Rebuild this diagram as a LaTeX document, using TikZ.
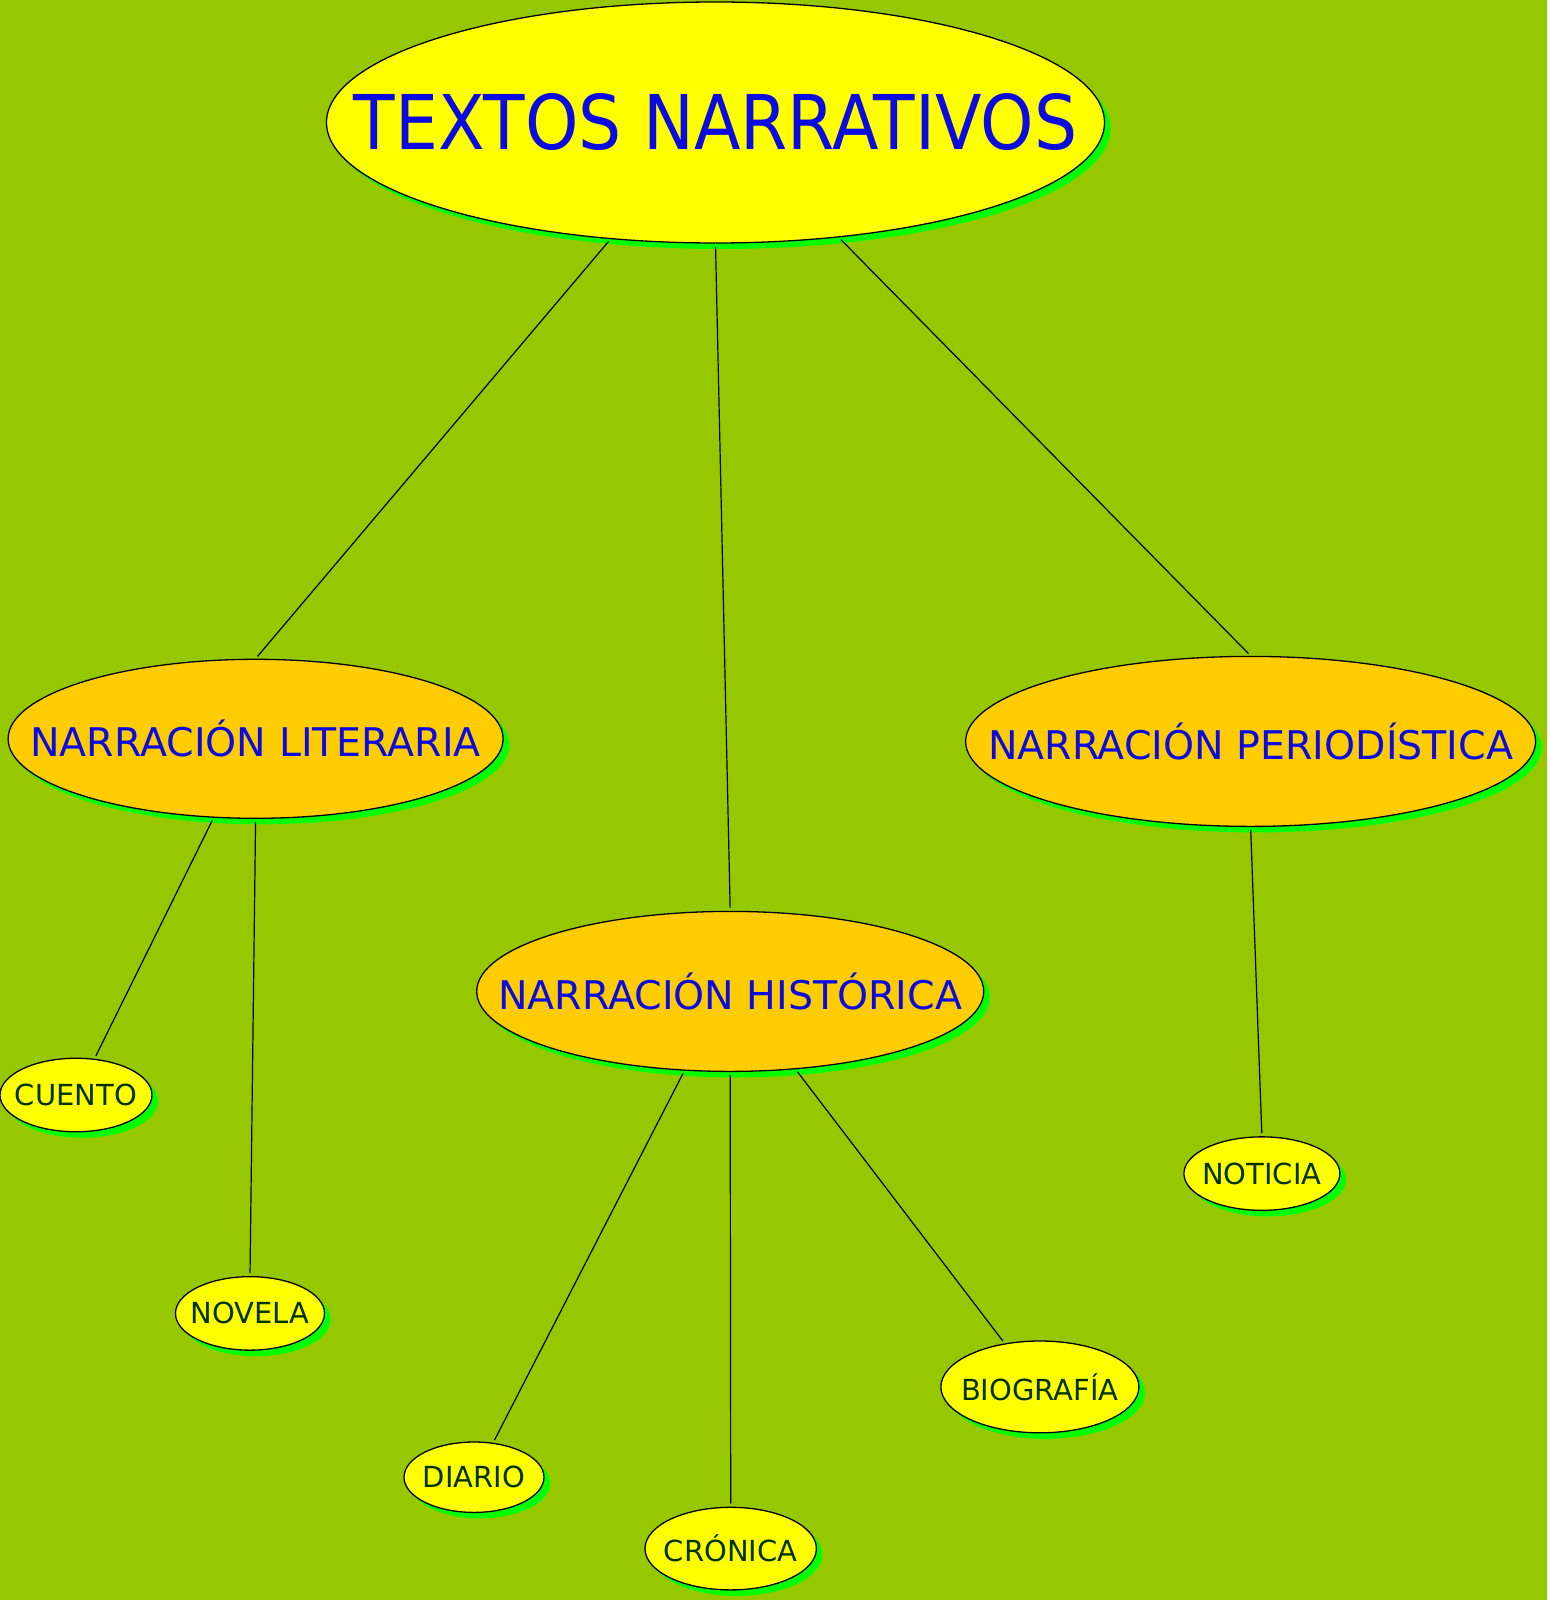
\documentclass[tikz,border=0pt]{standalone}
\usepackage{fontspec}
\setmainfont{DejaVu Sans}
\newfontfamily\titlefont{DejaVu Sans}[FakeStretch=0.9]
\usepackage{tikz}
\usetikzlibrary{shapes.geometric,shadows}

\definecolor{fondo}{RGB}{150,200,0}
\definecolor{amarillo}{RGB}{255,255,0}
\definecolor{naranja}{RGB}{255,204,0}
\definecolor{sombra}{RGB}{0,255,0}
\definecolor{azul}{RGB}{10,10,225}
\definecolor{verdeosc}{RGB}{0,51,0}

\newcommand{\etq}[1]{\makebox[0pt]{#1}}

\begin{document}
\begin{tikzpicture}[x=1pt, y=-1pt,
		elipse/.style={ellipse, draw=black, line width=1.3pt, inner sep=0pt,
			drop shadow={fill=sombra, opacity=1, shadow xshift=6pt, shadow yshift=-6pt}},
		raiz/.style={elipse, fill=amarillo, text=azul, font=\titlefont\fontsize{75.5}{80}\selectfont},
		rama/.style={elipse, fill=naranja, text=azul, font=\fontsize{39.5}{44}\selectfont},
		hoja/.style={elipse, fill=amarillo, text=verdeosc, font=\fontsize{29}{33}\selectfont},
		enlace/.style={line width=1.2pt, shorten <=3pt, shorten >=3pt}]
		\fill[fondo] (0,0) rectangle (1547,1600);
		\useasboundingbox (0,0) rectangle (1547,1600);

		\node[raiz, minimum width=778, minimum height=241] (tn) at (715.5,122.5) {\etq{TEXTOS NARRATIVOS}};

		\node[rama, minimum width=495, minimum height=159] (lit) at (255.6,738.8) {\etq{NARRACIÓN LITERARIA}};
		\node[rama, minimum width=570, minimum height=170] (per) at (1250.6,741.4) {\etq{NARRACIÓN PERIODÍSTICA}};
		\node[rama, minimum width=507, minimum height=160] (his) at (730.2,991.4) {\etq{NARRACIÓN HISTÓRICA}};

		\node[hoja, minimum width=152, minimum height=73.5] (cue) at (76,1095) {\etq{CUENTO}};
		\node[hoja, minimum width=149, minimum height=73.5] (nov) at (250,1313.4) {\etq{NOVELA}};
		\node[hoja, minimum width=140, minimum height=70.4] (dia) at (474,1477.2) {\etq{DIARIO}};
		\node[hoja, minimum width=171.4, minimum height=82.6] (cro) at (730.7,1548.6) {\etq{CRÓNICA}};
		\node[hoja, minimum width=198, minimum height=91.8] (bio) at (1039.9,1386.9) {\etq{BIOGRAFÍA}};
		\node[hoja, minimum width=156, minimum height=73.5] (not) at (1261.9,1173.6) {\etq{NOTICIA}};

		\draw[enlace] (tn.228) -- (lit.north);
		\draw[enlace] (tn.south) -- (his.north);
		\draw[enlace] (tn.317) -- (per.north);
		\draw[enlace] (lit.242) -- (cue.63);
		\draw[enlace] (lit.south) -- (nov.north);
		\draw[enlace] (his.240) -- (dia.61);
		\draw[enlace] (his.south) -- (cro.north);
		\draw[enlace] (his.310) -- (bio.129);
		\draw[enlace] (per.south) -- (not.north);
	\end{tikzpicture}
\end{document}
